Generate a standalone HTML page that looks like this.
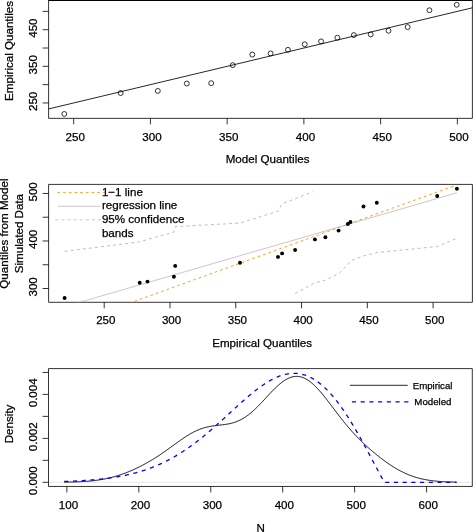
<!DOCTYPE html>
<html><head><meta charset="utf-8"><style>
html,body{margin:0;padding:0;background:#fff;}
svg{display:block;will-change:transform;}
text{font-family:"Liberation Sans", sans-serif;fill:#000;stroke:#000;stroke-width:0.25px;}
</style></head><body>
<svg width="473" height="532" viewBox="0 0 473 532">
<rect width="473" height="532" fill="#fff"/>
<g>
<line x1="48.60" y1="0.50" x2="472.40" y2="0.50" stroke="#000" stroke-width="1.0" />
<line x1="48.60" y1="118.35" x2="472.40" y2="118.35" stroke="#000" stroke-width="0.8" />
<line x1="48.60" y1="0.00" x2="48.60" y2="118.35" stroke="#000" stroke-width="0.8" />
<line x1="472.40" y1="0.00" x2="472.40" y2="118.35" stroke="#000" stroke-width="0.8" />
<line x1="73.68" y1="118.35" x2="73.68" y2="124.35" stroke="#000" stroke-width="0.8" />
<text x="75.28" y="140.65" text-anchor="middle" font-size="11.6">250</text>
<line x1="150.42" y1="118.35" x2="150.42" y2="124.35" stroke="#000" stroke-width="0.8" />
<text x="152.02" y="140.65" text-anchor="middle" font-size="11.6">300</text>
<line x1="227.16" y1="118.35" x2="227.16" y2="124.35" stroke="#000" stroke-width="0.8" />
<text x="228.76" y="140.65" text-anchor="middle" font-size="11.6">350</text>
<line x1="303.89" y1="118.35" x2="303.89" y2="124.35" stroke="#000" stroke-width="0.8" />
<text x="305.49" y="140.65" text-anchor="middle" font-size="11.6">400</text>
<line x1="380.63" y1="118.35" x2="380.63" y2="124.35" stroke="#000" stroke-width="0.8" />
<text x="382.23" y="140.65" text-anchor="middle" font-size="11.6">450</text>
<line x1="457.37" y1="118.35" x2="457.37" y2="124.35" stroke="#000" stroke-width="0.8" />
<text x="458.97" y="140.65" text-anchor="middle" font-size="11.6">500</text>
<line x1="42.60" y1="102.96" x2="48.60" y2="102.96" stroke="#000" stroke-width="0.8" />
<text transform="translate(36.90,101.36) rotate(-90)" text-anchor="middle" font-size="11.6">250</text>
<line x1="42.60" y1="84.64" x2="48.60" y2="84.64" stroke="#000" stroke-width="0.8" />
<line x1="42.60" y1="66.33" x2="48.60" y2="66.33" stroke="#000" stroke-width="0.8" />
<text transform="translate(36.90,64.73) rotate(-90)" text-anchor="middle" font-size="11.6">350</text>
<line x1="42.60" y1="48.02" x2="48.60" y2="48.02" stroke="#000" stroke-width="0.8" />
<line x1="42.60" y1="29.71" x2="48.60" y2="29.71" stroke="#000" stroke-width="0.8" />
<text transform="translate(36.90,28.11) rotate(-90)" text-anchor="middle" font-size="11.6">450</text>
<line x1="42.60" y1="11.39" x2="48.60" y2="11.39" stroke="#000" stroke-width="0.8" />
<clipPath id="c1"><rect x="48.6" y="0.4" width="423.79999999999995" height="117.94999999999999"/></clipPath>
<g clip-path="url(#c1)">
<line x1="-156.53" y1="157.89" x2="764.32" y2="-61.86" stroke="#000" stroke-width="0.85" />
<circle cx="64.30" cy="113.98" r="2.45" fill="none" stroke="#000" stroke-width="0.8"/>
<circle cx="120.65" cy="93.07" r="2.45" fill="none" stroke="#000" stroke-width="0.8"/>
<circle cx="157.82" cy="90.90" r="2.45" fill="none" stroke="#000" stroke-width="0.8"/>
<circle cx="186.79" cy="83.55" r="2.45" fill="none" stroke="#000" stroke-width="0.8"/>
<circle cx="211.19" cy="83.19" r="2.45" fill="none" stroke="#000" stroke-width="0.8"/>
<circle cx="232.73" cy="65.15" r="2.45" fill="none" stroke="#000" stroke-width="0.8"/>
<circle cx="252.33" cy="54.57" r="2.45" fill="none" stroke="#000" stroke-width="0.8"/>
<circle cx="270.60" cy="53.43" r="2.45" fill="none" stroke="#000" stroke-width="0.8"/>
<circle cx="287.95" cy="49.81" r="2.45" fill="none" stroke="#000" stroke-width="0.8"/>
<circle cx="304.70" cy="44.30" r="2.45" fill="none" stroke="#000" stroke-width="0.8"/>
<circle cx="321.10" cy="41.38" r="2.45" fill="none" stroke="#000" stroke-width="0.8"/>
<circle cx="337.40" cy="37.70" r="2.45" fill="none" stroke="#000" stroke-width="0.8"/>
<circle cx="353.85" cy="35.11" r="2.45" fill="none" stroke="#000" stroke-width="0.8"/>
<circle cx="370.74" cy="34.42" r="2.45" fill="none" stroke="#000" stroke-width="0.8"/>
<circle cx="388.48" cy="30.77" r="2.45" fill="none" stroke="#000" stroke-width="0.8"/>
<circle cx="407.66" cy="27.07" r="2.45" fill="none" stroke="#000" stroke-width="0.8"/>
<circle cx="429.43" cy="10.25" r="2.45" fill="none" stroke="#000" stroke-width="0.8"/>
<circle cx="456.70" cy="4.77" r="2.45" fill="none" stroke="#000" stroke-width="0.8"/>
</g>
<text x="267.60" y="163.30" text-anchor="middle" font-size="11.6">Model Quantiles</text>
<text transform="translate(13.30,50.95) rotate(-90)" text-anchor="middle" font-size="11.6">Empirical Quantiles</text>
</g>
<g>
<line x1="48.60" y1="184.40" x2="472.40" y2="184.40" stroke="#000" stroke-width="0.8" />
<line x1="48.60" y1="302.30" x2="472.40" y2="302.30" stroke="#000" stroke-width="0.8" />
<line x1="48.60" y1="184.40" x2="48.60" y2="302.30" stroke="#000" stroke-width="0.8" />
<line x1="472.40" y1="184.40" x2="472.40" y2="302.30" stroke="#000" stroke-width="0.8" />
<line x1="104.20" y1="302.30" x2="104.20" y2="308.30" stroke="#000" stroke-width="0.8" />
<text x="105.80" y="324.20" text-anchor="middle" font-size="11.6">250</text>
<line x1="169.98" y1="302.30" x2="169.98" y2="308.30" stroke="#000" stroke-width="0.8" />
<text x="171.58" y="324.20" text-anchor="middle" font-size="11.6">300</text>
<line x1="235.76" y1="302.30" x2="235.76" y2="308.30" stroke="#000" stroke-width="0.8" />
<text x="237.36" y="324.20" text-anchor="middle" font-size="11.6">350</text>
<line x1="301.54" y1="302.30" x2="301.54" y2="308.30" stroke="#000" stroke-width="0.8" />
<text x="303.14" y="324.20" text-anchor="middle" font-size="11.6">400</text>
<line x1="367.32" y1="302.30" x2="367.32" y2="308.30" stroke="#000" stroke-width="0.8" />
<text x="368.92" y="324.20" text-anchor="middle" font-size="11.6">450</text>
<line x1="433.10" y1="302.30" x2="433.10" y2="308.30" stroke="#000" stroke-width="0.8" />
<text x="434.70" y="324.20" text-anchor="middle" font-size="11.6">500</text>
<line x1="42.60" y1="288.50" x2="48.60" y2="288.50" stroke="#000" stroke-width="0.8" />
<text transform="translate(36.90,286.90) rotate(-90)" text-anchor="middle" font-size="11.6">300</text>
<line x1="42.60" y1="264.74" x2="48.60" y2="264.74" stroke="#000" stroke-width="0.8" />
<line x1="42.60" y1="240.98" x2="48.60" y2="240.98" stroke="#000" stroke-width="0.8" />
<text transform="translate(36.90,239.38) rotate(-90)" text-anchor="middle" font-size="11.6">400</text>
<line x1="42.60" y1="217.22" x2="48.60" y2="217.22" stroke="#000" stroke-width="0.8" />
<line x1="42.60" y1="193.46" x2="48.60" y2="193.46" stroke="#000" stroke-width="0.8" />
<text transform="translate(36.90,191.86) rotate(-90)" text-anchor="middle" font-size="11.6">500</text>
<clipPath id="c2"><rect x="48.6" y="184.4" width="423.79999999999995" height="117.9"/></clipPath>
<g clip-path="url(#c2)">
<line x1="64.60" y1="306.67" x2="456.90" y2="192.77" stroke="#BEBEBE" stroke-width="0.85" />
<line x1="64.60" y1="326.56" x2="456.90" y2="184.86" stroke="#FF8C00" stroke-width="0.85" stroke-dasharray="2.8 2.9"/>
<path d="M64.6,251.3 L139.7,241.9 L147.5,239.5 L173.9,232.0 L175.2,226.6 L240.0,223.1 L278.0,211.2 L282.1,203.8 L295.1,198.8 L312.6,191.7" fill="none" stroke="#BEBEBE" stroke-width="1.0" stroke-dasharray="3 3.1"/>
<path d="M295.1,293.5 L314.9,282.8 L325.4,280.3 L338.6,273.6 L347.9,264.5 L350.4,260.9 L363.5,256.0 L376.8,252.6 L437.2,246.5 L456.9,238.3" fill="none" stroke="#BEBEBE" stroke-width="1.0" stroke-dasharray="3 3.1"/>
<circle cx="64.60" cy="298.00" r="1.95" fill="#000"/>
<circle cx="139.70" cy="282.70" r="1.95" fill="#000"/>
<circle cx="147.50" cy="281.60" r="1.95" fill="#000"/>
<circle cx="173.90" cy="276.80" r="1.95" fill="#000"/>
<circle cx="175.20" cy="265.90" r="1.95" fill="#000"/>
<circle cx="240.00" cy="262.70" r="1.95" fill="#000"/>
<circle cx="278.00" cy="256.90" r="1.95" fill="#000"/>
<circle cx="282.10" cy="253.40" r="1.95" fill="#000"/>
<circle cx="295.10" cy="250.00" r="1.95" fill="#000"/>
<circle cx="314.90" cy="239.40" r="1.95" fill="#000"/>
<circle cx="325.40" cy="237.20" r="1.95" fill="#000"/>
<circle cx="338.60" cy="230.60" r="1.95" fill="#000"/>
<circle cx="347.90" cy="224.00" r="1.95" fill="#000"/>
<circle cx="350.40" cy="222.00" r="1.95" fill="#000"/>
<circle cx="363.50" cy="206.50" r="1.95" fill="#000"/>
<circle cx="376.80" cy="202.80" r="1.95" fill="#000"/>
<circle cx="437.20" cy="196.00" r="1.95" fill="#000"/>
<circle cx="456.90" cy="188.80" r="1.95" fill="#000"/>
</g>
<line x1="57.30" y1="192.40" x2="105.20" y2="192.40" stroke="#FF8C00" stroke-width="0.85" stroke-dasharray="2.8 2.9"/>
<line x1="58.00" y1="206.30" x2="100.40" y2="206.30" stroke="#BEBEBE" stroke-width="0.85" />
<line x1="55.30" y1="219.80" x2="101.20" y2="219.80" stroke="#BEBEBE" stroke-width="0.85" stroke-dasharray="3 3.1"/>
<text x="101.90" y="195.60" text-anchor="start" font-size="11.6">1−1 line</text>
<text x="101.90" y="209.20" text-anchor="start" font-size="11.6">regression line</text>
<text x="101.90" y="222.80" text-anchor="start" font-size="11.6">95% confidence</text>
<text x="101.90" y="236.90" text-anchor="start" font-size="11.6">bands</text>
<text x="262.10" y="347.40" text-anchor="middle" font-size="11.6">Empirical Quantiles</text>
<text transform="translate(8.20,233.60) rotate(-90)" text-anchor="middle" font-size="11.6">Quantiles from Model</text>
<text transform="translate(22.80,233.60) rotate(-90)" text-anchor="middle" font-size="11.6">Simulated Data</text>
</g>
<g>
<line x1="48.50" y1="368.60" x2="472.30" y2="368.60" stroke="#000" stroke-width="0.8" />
<line x1="48.50" y1="486.45" x2="472.30" y2="486.45" stroke="#000" stroke-width="0.8" />
<line x1="48.50" y1="368.60" x2="48.50" y2="486.45" stroke="#000" stroke-width="0.8" />
<line x1="472.30" y1="368.60" x2="472.30" y2="486.45" stroke="#000" stroke-width="0.8" />
<line x1="66.89" y1="486.45" x2="66.89" y2="492.45" stroke="#000" stroke-width="0.8" />
<text x="68.49" y="508.95" text-anchor="middle" font-size="11.6">100</text>
<line x1="138.83" y1="486.45" x2="138.83" y2="492.45" stroke="#000" stroke-width="0.8" />
<text x="140.43" y="508.95" text-anchor="middle" font-size="11.6">200</text>
<line x1="210.77" y1="486.45" x2="210.77" y2="492.45" stroke="#000" stroke-width="0.8" />
<text x="212.37" y="508.95" text-anchor="middle" font-size="11.6">300</text>
<line x1="282.70" y1="486.45" x2="282.70" y2="492.45" stroke="#000" stroke-width="0.8" />
<text x="284.30" y="508.95" text-anchor="middle" font-size="11.6">400</text>
<line x1="354.64" y1="486.45" x2="354.64" y2="492.45" stroke="#000" stroke-width="0.8" />
<text x="356.24" y="508.95" text-anchor="middle" font-size="11.6">500</text>
<line x1="426.58" y1="486.45" x2="426.58" y2="492.45" stroke="#000" stroke-width="0.8" />
<text x="428.18" y="508.95" text-anchor="middle" font-size="11.6">600</text>
<line x1="42.50" y1="482.30" x2="48.50" y2="482.30" stroke="#000" stroke-width="0.8" />
<text transform="translate(36.90,480.70) rotate(-90)" text-anchor="middle" font-size="11.6">0.000</text>
<line x1="42.50" y1="460.33" x2="48.50" y2="460.33" stroke="#000" stroke-width="0.8" />
<line x1="42.50" y1="438.36" x2="48.50" y2="438.36" stroke="#000" stroke-width="0.8" />
<text transform="translate(36.90,436.76) rotate(-90)" text-anchor="middle" font-size="11.6">0.002</text>
<line x1="42.50" y1="416.39" x2="48.50" y2="416.39" stroke="#000" stroke-width="0.8" />
<line x1="42.50" y1="394.42" x2="48.50" y2="394.42" stroke="#000" stroke-width="0.8" />
<text transform="translate(36.90,392.82) rotate(-90)" text-anchor="middle" font-size="11.6">0.004</text>
<line x1="42.50" y1="372.45" x2="48.50" y2="372.45" stroke="#000" stroke-width="0.8" />
<clipPath id="c3"><rect x="48.5" y="368.6" width="423.8" height="117.84999999999997"/></clipPath>
<g clip-path="url(#c3)">
<line x1="48.50" y1="482.30" x2="470.80" y2="482.30" stroke="#BEBEBE" stroke-width="0.4" />
<path d="M64.20,482.17 L64.96,482.16 L65.73,482.15 L66.50,482.13 L67.27,482.12 L68.04,482.11 L68.80,482.09 L69.57,482.07 L70.34,482.06 L71.11,482.04 L71.88,482.02 L72.64,482.00 L73.41,481.98 L74.18,481.95 L74.95,481.93 L75.72,481.90 L76.48,481.87 L77.25,481.85 L78.02,481.81 L78.79,481.78 L79.55,481.75 L80.32,481.71 L81.09,481.67 L81.86,481.63 L82.63,481.58 L83.39,481.54 L84.16,481.49 L84.93,481.44 L85.70,481.39 L86.47,481.33 L87.23,481.27 L88.00,481.21 L88.77,481.14 L89.54,481.08 L90.31,481.00 L91.07,480.93 L91.84,480.85 L92.61,480.77 L93.38,480.69 L94.15,480.60 L94.91,480.50 L95.68,480.41 L96.45,480.31 L97.22,480.20 L97.98,480.10 L98.75,479.98 L99.52,479.87 L100.29,479.74 L101.06,479.62 L101.82,479.49 L102.59,479.35 L103.36,479.21 L104.13,479.07 L104.90,478.92 L105.66,478.77 L106.43,478.61 L107.20,478.44 L107.97,478.27 L108.74,478.10 L109.50,477.92 L110.27,477.73 L111.04,477.54 L111.81,477.35 L112.58,477.15 L113.34,476.94 L114.11,476.73 L114.88,476.52 L115.65,476.29 L116.41,476.07 L117.18,475.83 L117.95,475.60 L118.72,475.35 L119.49,475.10 L120.25,474.85 L121.02,474.59 L121.79,474.33 L122.56,474.06 L123.33,473.78 L124.09,473.50 L124.86,473.22 L125.63,472.93 L126.40,472.63 L127.17,472.33 L127.93,472.02 L128.70,471.71 L129.47,471.39 L130.24,471.07 L131.01,470.75 L131.77,470.42 L132.54,470.08 L133.31,469.74 L134.08,469.39 L134.84,469.04 L135.61,468.68 L136.38,468.32 L137.15,467.95 L137.92,467.58 L138.68,467.21 L139.45,466.82 L140.22,466.44 L140.99,466.05 L141.76,465.65 L142.52,465.25 L143.29,464.84 L144.06,464.43 L144.83,464.02 L145.60,463.60 L146.36,463.17 L147.13,462.74 L147.90,462.30 L148.67,461.86 L149.44,461.41 L150.20,460.96 L150.97,460.51 L151.74,460.05 L152.51,459.58 L153.28,459.11 L154.04,458.63 L154.81,458.15 L155.58,457.66 L156.35,457.17 L157.11,456.68 L157.88,456.18 L158.65,455.67 L159.42,455.16 L160.19,454.65 L160.95,454.13 L161.72,453.61 L162.49,453.08 L163.26,452.55 L164.03,452.01 L164.79,451.48 L165.56,450.94 L166.33,450.39 L167.10,449.84 L167.87,449.29 L168.63,448.74 L169.40,448.19 L170.17,447.63 L170.94,447.08 L171.71,446.52 L172.47,445.96 L173.24,445.40 L174.01,444.84 L174.78,444.29 L175.54,443.73 L176.31,443.17 L177.08,442.62 L177.85,442.07 L178.62,441.52 L179.38,440.98 L180.15,440.43 L180.92,439.90 L181.69,439.36 L182.46,438.84 L183.22,438.32 L183.99,437.80 L184.76,437.29 L185.53,436.79 L186.30,436.30 L187.06,435.81 L187.83,435.33 L188.60,434.87 L189.37,434.41 L190.14,433.96 L190.90,433.52 L191.67,433.09 L192.44,432.68 L193.21,432.27 L193.97,431.88 L194.74,431.49 L195.51,431.12 L196.28,430.76 L197.05,430.42 L197.81,430.08 L198.58,429.76 L199.35,429.46 L200.12,429.16 L200.89,428.88 L201.65,428.61 L202.42,428.35 L203.19,428.11 L203.96,427.87 L204.73,427.65 L205.49,427.44 L206.26,427.25 L207.03,427.06 L207.80,426.88 L208.57,426.72 L209.33,426.56 L210.10,426.42 L210.87,426.28 L211.64,426.15 L212.40,426.03 L213.17,425.91 L213.94,425.80 L214.71,425.70 L215.48,425.60 L216.24,425.51 L217.01,425.42 L217.78,425.33 L218.55,425.24 L219.32,425.16 L220.08,425.07 L220.85,424.99 L221.62,424.90 L222.39,424.81 L223.16,424.71 L223.92,424.61 L224.69,424.51 L225.46,424.40 L226.23,424.28 L227.00,424.16 L227.76,424.02 L228.53,423.88 L229.30,423.73 L230.07,423.56 L230.84,423.38 L231.60,423.19 L232.37,422.99 L233.14,422.77 L233.91,422.54 L234.67,422.29 L235.44,422.03 L236.21,421.75 L236.98,421.46 L237.75,421.14 L238.51,420.81 L239.28,420.46 L240.05,420.09 L240.82,419.71 L241.59,419.30 L242.35,418.88 L243.12,418.43 L243.89,417.97 L244.66,417.48 L245.43,416.98 L246.19,416.46 L246.96,415.92 L247.73,415.36 L248.50,414.78 L249.27,414.19 L250.03,413.57 L250.80,412.94 L251.57,412.29 L252.34,411.63 L253.10,410.94 L253.87,410.25 L254.64,409.54 L255.41,408.81 L256.18,408.07 L256.94,407.32 L257.71,406.55 L258.48,405.78 L259.25,404.99 L260.02,404.20 L260.78,403.39 L261.55,402.58 L262.32,401.76 L263.09,400.94 L263.86,400.12 L264.62,399.29 L265.39,398.45 L266.16,397.62 L266.93,396.79 L267.70,395.96 L268.46,395.13 L269.23,394.30 L270.00,393.48 L270.77,392.67 L271.53,391.86 L272.30,391.06 L273.07,390.28 L273.84,389.50 L274.61,388.73 L275.37,387.98 L276.14,387.24 L276.91,386.52 L277.68,385.82 L278.45,385.13 L279.21,384.46 L279.98,383.81 L280.75,383.18 L281.52,382.58 L282.29,381.99 L283.05,381.43 L283.82,380.90 L284.59,380.39 L285.36,379.91 L286.13,379.46 L286.89,379.03 L287.66,378.64 L288.43,378.27 L289.20,377.94 L289.96,377.63 L290.73,377.36 L291.50,377.12 L292.27,376.92 L293.04,376.74 L293.80,376.60 L294.57,376.50 L295.34,376.42 L296.11,376.39 L296.88,376.38 L297.64,376.42 L298.41,376.48 L299.18,376.59 L299.95,376.72 L300.72,376.89 L301.48,377.10 L302.25,377.34 L303.02,377.62 L303.79,377.92 L304.56,378.27 L305.32,378.64 L306.09,379.05 L306.86,379.49 L307.63,379.96 L308.40,380.46 L309.16,381.00 L309.93,381.56 L310.70,382.15 L311.47,382.77 L312.23,383.42 L313.00,384.09 L313.77,384.79 L314.54,385.52 L315.31,386.27 L316.07,387.04 L316.84,387.83 L317.61,388.64 L318.38,389.48 L319.15,390.33 L319.91,391.20 L320.68,392.09 L321.45,392.99 L322.22,393.91 L322.99,394.84 L323.75,395.79 L324.52,396.74 L325.29,397.71 L326.06,398.68 L326.83,399.67 L327.59,400.66 L328.36,401.66 L329.13,402.66 L329.90,403.67 L330.66,404.68 L331.43,405.70 L332.20,406.71 L332.97,407.73 L333.74,408.74 L334.50,409.76 L335.27,410.78 L336.04,411.79 L336.81,412.80 L337.58,413.80 L338.34,414.80 L339.11,415.80 L339.88,416.79 L340.65,417.78 L341.42,418.76 L342.18,419.73 L342.95,420.69 L343.72,421.65 L344.49,422.60 L345.26,423.54 L346.02,424.48 L346.79,425.40 L347.56,426.32 L348.33,427.22 L349.09,428.12 L349.86,429.01 L350.63,429.89 L351.40,430.76 L352.17,431.62 L352.93,432.47 L353.70,433.31 L354.47,434.15 L355.24,434.97 L356.01,435.78 L356.77,436.59 L357.54,437.39 L358.31,438.18 L359.08,438.96 L359.85,439.73 L360.61,440.49 L361.38,441.25 L362.15,441.99 L362.92,442.73 L363.69,443.47 L364.45,444.19 L365.22,444.91 L365.99,445.62 L366.76,446.32 L367.52,447.02 L368.29,447.71 L369.06,448.39 L369.83,449.07 L370.60,449.74 L371.36,450.40 L372.13,451.06 L372.90,451.72 L373.67,452.36 L374.44,453.00 L375.20,453.64 L375.97,454.27 L376.74,454.89 L377.51,455.51 L378.28,456.12 L379.04,456.72 L379.81,457.32 L380.58,457.92 L381.35,458.51 L382.12,459.09 L382.88,459.66 L383.65,460.23 L384.42,460.80 L385.19,461.35 L385.96,461.91 L386.72,462.45 L387.49,462.99 L388.26,463.52 L389.03,464.04 L389.79,464.56 L390.56,465.07 L391.33,465.57 L392.10,466.07 L392.87,466.56 L393.63,467.04 L394.40,467.51 L395.17,467.97 L395.94,468.43 L396.71,468.88 L397.47,469.32 L398.24,469.75 L399.01,470.18 L399.78,470.59 L400.55,471.00 L401.31,471.40 L402.08,471.79 L402.85,472.17 L403.62,472.55 L404.39,472.91 L405.15,473.27 L405.92,473.61 L406.69,473.95 L407.46,474.28 L408.22,474.60 L408.99,474.91 L409.76,475.22 L410.53,475.51 L411.30,475.80 L412.06,476.08 L412.83,476.35 L413.60,476.61 L414.37,476.86 L415.14,477.10 L415.90,477.34 L416.67,477.57 L417.44,477.79 L418.21,478.00 L418.98,478.21 L419.74,478.41 L420.51,478.60 L421.28,478.78 L422.05,478.96 L422.82,479.13 L423.58,479.29 L424.35,479.44 L425.12,479.59 L425.89,479.74 L426.65,479.87 L427.42,480.01 L428.19,480.13 L428.96,480.25 L429.73,480.37 L430.49,480.48 L431.26,480.58 L432.03,480.68 L432.80,480.77 L433.57,480.86 L434.33,480.95 L435.10,481.03 L435.87,481.11 L436.64,481.18 L437.41,481.25 L438.17,481.31 L438.94,481.38 L439.71,481.44 L440.48,481.49 L441.25,481.54 L442.01,481.59 L442.78,481.64 L443.55,481.68 L444.32,481.72 L445.08,481.76 L445.85,481.80 L446.62,481.83 L447.39,481.87 L448.16,481.90 L448.92,481.93 L449.69,481.95 L450.46,481.98 L451.23,482.00 L452.00,482.02 L452.76,482.04 L453.53,482.06 L454.30,482.08 L455.07,482.10 L455.84,482.11 L456.60,482.13" fill="none" stroke="#000" stroke-width="0.95"/>
<path d="M64.20,481.47 L64.96,481.44 L65.73,481.41 L66.50,481.39 L67.27,481.36 L68.04,481.33 L68.80,481.30 L69.57,481.27 L70.34,481.24 L71.11,481.21 L71.88,481.18 L72.64,481.14 L73.41,481.11 L74.18,481.07 L74.95,481.04 L75.72,481.00 L76.48,480.96 L77.25,480.92 L78.02,480.88 L78.79,480.84 L79.55,480.80 L80.32,480.76 L81.09,480.71 L81.86,480.67 L82.63,480.62 L83.39,480.57 L84.16,480.52 L84.93,480.47 L85.70,480.42 L86.47,480.37 L87.23,480.31 L88.00,480.26 L88.77,480.20 L89.54,480.14 L90.31,480.08 L91.07,480.02 L91.84,479.96 L92.61,479.90 L93.38,479.83 L94.15,479.76 L94.91,479.69 L95.68,479.62 L96.45,479.55 L97.22,479.48 L97.98,479.40 L98.75,479.33 L99.52,479.25 L100.29,479.17 L101.06,479.08 L101.82,479.00 L102.59,478.91 L103.36,478.82 L104.13,478.73 L104.90,478.64 L105.66,478.55 L106.43,478.45 L107.20,478.35 L107.97,478.25 L108.74,478.15 L109.50,478.04 L110.27,477.93 L111.04,477.82 L111.81,477.71 L112.58,477.60 L113.34,477.48 L114.11,477.36 L114.88,477.24 L115.65,477.11 L116.41,476.98 L117.18,476.85 L117.95,476.72 L118.72,476.59 L119.49,476.45 L120.25,476.31 L121.02,476.16 L121.79,476.02 L122.56,475.87 L123.33,475.71 L124.09,475.56 L124.86,475.40 L125.63,475.24 L126.40,475.07 L127.17,474.90 L127.93,474.73 L128.70,474.56 L129.47,474.38 L130.24,474.20 L131.01,474.01 L131.77,473.83 L132.54,473.63 L133.31,473.44 L134.08,473.24 L134.84,473.04 L135.61,472.83 L136.38,472.62 L137.15,472.41 L137.92,472.19 L138.68,471.97 L139.45,471.74 L140.22,471.52 L140.99,471.28 L141.76,471.05 L142.52,470.80 L143.29,470.56 L144.06,470.31 L144.83,470.06 L145.60,469.80 L146.36,469.54 L147.13,469.27 L147.90,469.00 L148.67,468.72 L149.44,468.44 L150.20,468.16 L150.97,467.87 L151.74,467.58 L152.51,467.28 L153.28,466.98 L154.04,466.67 L154.81,466.36 L155.58,466.05 L156.35,465.73 L157.11,465.40 L157.88,465.07 L158.65,464.73 L159.42,464.39 L160.19,464.05 L160.95,463.70 L161.72,463.34 L162.49,462.98 L163.26,462.62 L164.03,462.25 L164.79,461.87 L165.56,461.49 L166.33,461.11 L167.10,460.72 L167.87,460.32 L168.63,459.92 L169.40,459.52 L170.17,459.11 L170.94,458.69 L171.71,458.27 L172.47,457.84 L173.24,457.41 L174.01,456.97 L174.78,456.53 L175.54,456.08 L176.31,455.63 L177.08,455.17 L177.85,454.71 L178.62,454.24 L179.38,453.76 L180.15,453.28 L180.92,452.80 L181.69,452.31 L182.46,451.82 L183.22,451.32 L183.99,450.81 L184.76,450.30 L185.53,449.78 L186.30,449.26 L187.06,448.74 L187.83,448.20 L188.60,447.67 L189.37,447.13 L190.14,446.58 L190.90,446.03 L191.67,445.47 L192.44,444.91 L193.21,444.34 L193.97,443.77 L194.74,443.20 L195.51,442.62 L196.28,442.03 L197.05,441.44 L197.81,440.85 L198.58,440.25 L199.35,439.64 L200.12,439.03 L200.89,438.42 L201.65,437.81 L202.42,437.18 L203.19,436.56 L203.96,435.93 L204.73,435.30 L205.49,434.66 L206.26,434.02 L207.03,433.37 L207.80,432.72 L208.57,432.07 L209.33,431.41 L210.10,430.75 L210.87,430.09 L211.64,429.43 L212.40,428.76 L213.17,428.08 L213.94,427.41 L214.71,426.73 L215.48,426.05 L216.24,425.37 L217.01,424.68 L217.78,423.99 L218.55,423.30 L219.32,422.61 L220.08,421.91 L220.85,421.22 L221.62,420.52 L222.39,419.82 L223.16,419.12 L223.92,418.42 L224.69,417.71 L225.46,417.01 L226.23,416.30 L227.00,415.60 L227.76,414.89 L228.53,414.18 L229.30,413.48 L230.07,412.77 L230.84,412.06 L231.60,411.35 L232.37,410.65 L233.14,409.94 L233.91,409.24 L234.67,408.53 L235.44,407.83 L236.21,407.13 L236.98,406.43 L237.75,405.73 L238.51,405.03 L239.28,404.34 L240.05,403.64 L240.82,402.95 L241.59,402.27 L242.35,401.58 L243.12,400.90 L243.89,400.22 L244.66,399.55 L245.43,398.88 L246.19,398.21 L246.96,397.55 L247.73,396.89 L248.50,396.23 L249.27,395.58 L250.03,394.94 L250.80,394.30 L251.57,393.66 L252.34,393.04 L253.10,392.41 L253.87,391.79 L254.64,391.18 L255.41,390.58 L256.18,389.98 L256.94,389.39 L257.71,388.81 L258.48,388.23 L259.25,387.66 L260.02,387.10 L260.78,386.55 L261.55,386.00 L262.32,385.46 L263.09,384.94 L263.86,384.42 L264.62,383.91 L265.39,383.41 L266.16,382.91 L266.93,382.43 L267.70,381.96 L268.46,381.50 L269.23,381.05 L270.00,380.61 L270.77,380.18 L271.53,379.76 L272.30,379.35 L273.07,378.96 L273.84,378.57 L274.61,378.20 L275.37,377.84 L276.14,377.50 L276.91,377.16 L277.68,376.84 L278.45,376.53 L279.21,376.23 L279.98,375.95 L280.75,375.68 L281.52,375.43 L282.29,375.18 L283.05,374.96 L283.82,374.74 L284.59,374.54 L285.36,374.36 L286.13,374.19 L286.89,374.04 L287.66,373.90 L288.43,373.78 L289.20,373.67 L289.96,373.57 L290.73,373.50 L291.50,373.44 L292.27,373.39 L293.04,373.37 L293.80,373.35 L294.57,373.36 L295.34,373.38 L296.11,373.42 L296.88,373.47 L297.64,373.55 L298.41,373.64 L299.18,373.74 L299.95,373.87 L300.72,374.01 L301.48,374.17 L302.25,374.35 L303.02,374.54 L303.79,374.76 L304.56,374.99 L305.32,375.24 L306.09,375.50 L306.86,375.79 L307.63,376.09 L308.40,376.41 L309.16,376.75 L309.93,377.11 L310.70,377.49 L311.47,377.88 L312.23,378.30 L313.00,378.73 L313.77,379.18 L314.54,379.65 L315.31,380.14 L316.07,380.65 L316.84,381.17 L317.61,381.71 L318.38,382.28 L319.15,382.86 L319.91,383.46 L320.68,384.07 L321.45,384.71 L322.22,385.36 L322.99,386.03 L323.75,386.72 L324.52,387.43 L325.29,388.16 L326.06,388.90 L326.83,389.66 L327.59,390.44 L328.36,391.24 L329.13,392.06 L329.90,392.89 L330.66,393.74 L331.43,394.60 L332.20,395.49 L332.97,396.39 L333.74,397.31 L334.50,398.24 L335.27,399.19 L336.04,400.16 L336.81,401.14 L337.58,402.14 L338.34,403.15 L339.11,404.18 L339.88,405.23 L340.65,406.29 L341.42,407.37 L342.18,408.46 L342.95,409.56 L343.72,410.68 L344.49,411.82 L345.26,412.96 L346.02,414.12 L346.79,415.30 L347.56,416.49 L348.33,417.69 L349.09,418.90 L349.86,420.13 L350.63,421.36 L351.40,422.61 L352.17,423.87 L352.93,425.15 L353.70,426.43 L354.47,427.72 L355.24,429.03 L356.01,430.34 L356.77,431.67 L357.54,433.00 L358.31,434.34 L359.08,435.70 L359.85,437.05 L360.61,438.42 L361.38,439.80 L362.15,441.18 L362.92,442.57 L363.69,443.97 L364.45,445.37 L365.22,446.78 L365.99,448.19 L366.76,449.61 L367.52,451.04 L368.29,452.46 L369.06,453.90 L369.83,455.33 L370.60,456.77 L371.36,458.21 L372.13,459.65 L372.90,461.10 L373.67,462.54 L374.44,463.99 L375.20,465.43 L375.97,466.87 L376.74,468.32 L377.51,469.76 L378.28,471.19 L379.04,472.62 L379.81,474.05 L380.58,475.47 L381.35,476.88 L382.12,478.27 L382.88,479.65 L383.65,481.01 L384.42,482.29 L385.19,482.30 L385.96,482.30 L386.72,482.30 L387.49,482.30 L388.26,482.30 L389.03,482.30 L389.79,482.30 L390.56,482.30 L391.33,482.30 L392.10,482.30 L392.87,482.30 L393.63,482.30 L394.40,482.30 L395.17,482.30 L395.94,482.30 L396.71,482.30 L397.47,482.30 L398.24,482.30 L399.01,482.30 L399.78,482.30 L400.55,482.30 L401.31,482.30 L402.08,482.30 L402.85,482.30 L403.62,482.30 L404.39,482.30 L405.15,482.30 L405.92,482.30 L406.69,482.30 L407.46,482.30 L408.22,482.30 L408.99,482.30 L409.76,482.30 L410.53,482.30 L411.30,482.30 L412.06,482.30 L412.83,482.30 L413.60,482.30 L414.37,482.30 L415.14,482.30 L415.90,482.30 L416.67,482.30 L417.44,482.30 L418.21,482.30 L418.98,482.30 L419.74,482.30 L420.51,482.30 L421.28,482.30 L422.05,482.30 L422.82,482.30 L423.58,482.30 L424.35,482.30 L425.12,482.30 L425.89,482.30 L426.65,482.30 L427.42,482.30 L428.19,482.30 L428.96,482.30 L429.73,482.30 L430.49,482.30 L431.26,482.30 L432.03,482.30 L432.80,482.30 L433.57,482.30 L434.33,482.30 L435.10,482.30 L435.87,482.30 L436.64,482.30 L437.41,482.30 L438.17,482.30 L438.94,482.30 L439.71,482.30 L440.48,482.30 L441.25,482.30 L442.01,482.30 L442.78,482.30 L443.55,482.30 L444.32,482.30 L445.08,482.30 L445.85,482.30 L446.62,482.30 L447.39,482.30 L448.16,482.30 L448.92,482.30 L449.69,482.30 L450.46,482.30 L451.23,482.30 L452.00,482.30 L452.76,482.30 L453.53,482.30 L454.30,482.30 L455.07,482.30 L455.84,482.30 L456.60,482.30" fill="none" stroke="#0000FF" stroke-width="1.3" stroke-dasharray="4.15 4.57"/>
</g>
<line x1="349.90" y1="385.30" x2="407.70" y2="385.30" stroke="#000" stroke-width="0.85" />
<line x1="351.90" y1="401.80" x2="408.50" y2="401.80" stroke="#0000FF" stroke-width="1.3" stroke-dasharray="4.15 4.57"/>
<text x="432.60" y="388.80" text-anchor="middle" font-size="9.7">Empirical</text>
<text x="432.90" y="405.00" text-anchor="middle" font-size="9.7">Modeled</text>
<text x="260.75" y="532.00" text-anchor="middle" font-size="11.6">N</text>
<text transform="translate(13.20,424.00) rotate(-90)" text-anchor="middle" font-size="11.6">Density</text>
</g>
</svg></body></html>
